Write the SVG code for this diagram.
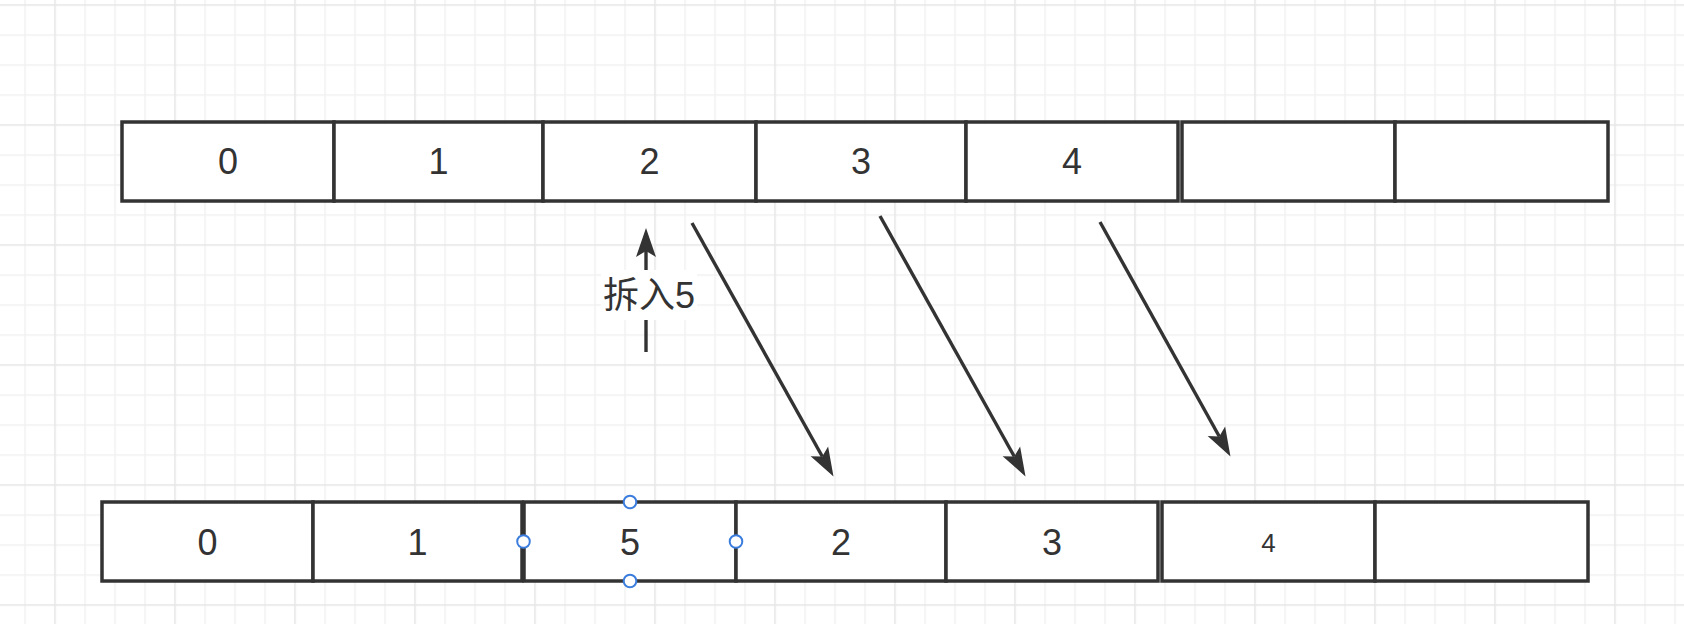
<svg xmlns="http://www.w3.org/2000/svg" width="1684" height="624" viewBox="0 0 1684 624">
<style>
.cell{fill:#ffffff;stroke:#333333;stroke-width:3.5}
.t{font-family:"Liberation Sans",Arial,"Noto Sans CJK SC",sans-serif;font-size:36px;fill:#333333;text-anchor:middle}
.edge{fill:none;stroke:#333333;stroke-width:3.4}
.handle{fill:#ffffff;stroke:#3b7ddd;stroke-width:2}
</style>
<defs>
<pattern id="grid" patternUnits="userSpaceOnUse" x="54.25" y="4.25" width="120" height="120">
<rect x="30" y="0" width="1.5" height="120" fill="#f1f1f1"/>
<rect x="60" y="0" width="1.5" height="120" fill="#f1f1f1"/>
<rect x="90" y="0" width="1.5" height="120" fill="#f1f1f1"/>
<rect x="0" y="30" width="120" height="1.5" fill="#f1f1f1"/>
<rect x="0" y="60" width="120" height="1.5" fill="#f1f1f1"/>
<rect x="0" y="90" width="120" height="1.5" fill="#f1f1f1"/>
<rect x="0" y="0" width="1.5" height="120" fill="#e6e6e6"/>
<rect x="0" y="0" width="120" height="1.5" fill="#e6e6e6"/>
</pattern>
<marker id="arr" markerUnits="userSpaceOnUse" markerWidth="32" markerHeight="22" viewBox="0 -11 32 22" refX="6" refY="0" orient="auto">
<path d="M0,-10 L29,0 L0,10 L6,0 Z" fill="#333333"/>
</marker>
</defs>
<rect x="0" y="0" width="1684" height="624" fill="#ffffff"/>
<rect x="0" y="0" width="1684" height="624" fill="url(#grid)"/>

<g id="top-row">
<g id="top-0"><rect class="cell" x="122" y="122" width="212" height="79"/><text class="t" x="228" y="174">0</text></g>
<g id="top-1"><rect class="cell" x="334" y="122" width="209" height="79"/><text class="t" x="438.5" y="174">1</text></g>
<g id="top-2"><rect class="cell" x="543" y="122" width="213" height="79"/><text class="t" x="649.5" y="174">2</text></g>
<g id="top-3"><rect class="cell" x="756" y="122" width="210" height="79"/><text class="t" x="861" y="174">3</text></g>
<g id="top-4"><rect class="cell" x="966" y="122" width="212" height="79"/><text class="t" x="1072" y="174">4</text></g>
<g id="top-5"><rect class="cell" x="1182" y="122" width="213" height="79"/></g>
<g id="top-6"><rect class="cell" x="1395" y="122" width="213" height="79"/></g>
</g>

<g id="bottom-row">
<g id="bot-0"><rect class="cell" x="102" y="502" width="211" height="79"/><text class="t" x="207.5" y="554.5">0</text></g>
<g id="bot-1"><rect class="cell" x="313" y="502" width="209" height="79"/><text class="t" x="417.5" y="554.5">1</text></g>
<g id="bot-2"><rect class="cell" x="524" y="502" width="212" height="79"/><text class="t" x="630" y="554.5">5</text></g>
<g id="bot-3"><rect class="cell" x="736" y="502" width="210" height="79"/><text class="t" x="841" y="554.5">2</text></g>
<g id="bot-4"><rect class="cell" x="946" y="502" width="212" height="79"/><text class="t" x="1052" y="554.5">3</text></g>
<g id="bot-5"><rect class="cell" x="1162" y="502" width="213" height="79"/><text class="t" x="1268.5" y="552" style="font-size:26px">4</text></g>
<g id="bot-6"><rect class="cell" x="1375" y="502" width="213" height="79"/></g>
</g>

<g id="connectors">
<path class="edge" d="M646,352 L646,251" marker-end="url(#arr)"/>
<path class="edge" d="M692,223 L822.3,456.5" marker-end="url(#arr)"/>
<path class="edge" d="M880,216 L1014.3,456.5" marker-end="url(#arr)"/>
<path class="edge" d="M1100,222 L1219.3,436.5" marker-end="url(#arr)"/>
</g>

<g id="label-insert">
<rect x="601" y="270" width="96" height="50" fill="#ffffff"/>
<text class="t" x="649" y="307.5">拆入5</text>
</g>

<g id="handles">
<circle class="handle" cx="630" cy="502" r="6.3"/>
<circle class="handle" cx="630" cy="581" r="6.3"/>
<circle class="handle" cx="523.5" cy="541.5" r="6.3"/>
<circle class="handle" cx="736" cy="541.5" r="6.3"/>
</g>
</svg>
